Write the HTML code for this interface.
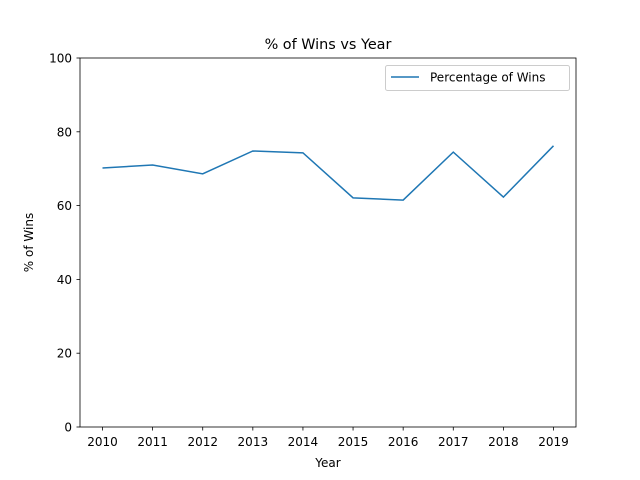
<!DOCTYPE html>
<html><head><meta charset="utf-8"><style>
html,body{margin:0;padding:0;background:#fff;}
svg{display:block;font-family:"DejaVu Sans","Liberation Sans",sans-serif;}
</style></head><body>
<svg id="chart" width="640" height="480" viewBox="0 0 640 480">
<rect width="640" height="480" fill="#fff"/>
<text x="328" y="49" text-anchor="middle" font-size="14.4">% of Wins vs Year</text>
<g id="ticks"></g>
<path id="line" fill="none" stroke="#1f77b4" stroke-width="1.5"/>
<rect x="80" y="58" width="496" height="369" fill="none" stroke="#000" stroke-width="0.8"/>
<text x="328" y="467" text-anchor="middle" font-size="12">Year</text>
<text transform="translate(33,242.5) rotate(-90)" text-anchor="middle" font-size="12">% of Wins</text>
<g>
<rect x="385.5" y="65.5" width="184" height="25" rx="2" fill="#fff" stroke="#ccc"/>
<line x1="391" y1="77" x2="419" y2="77" stroke="#1f77b4" stroke-width="1.5"/>
<text x="430" y="81.5" font-size="12">Percentage of Wins</text>
</g>
</svg>
<script>
const years = [2010,2011,2012,2013,2014,2015,2016,2017,2018,2019];
const wins = [70.2,71.0,68.6,74.8,74.3,62.1,61.5,74.5,62.3,76.2];
const yTicks = [0,20,40,60,80,100];
const NS="http://www.w3.org/2000/svg";
function xs(v){return 102.5+(v-2010)*(553.5-102.5)/9;}
function ys(v){return 427-v*369/100;}
const g=document.getElementById('ticks');
function mk(t,a){const e=document.createElementNS(NS,t);for(const k in a)e.setAttribute(k,a[k]);return e;}
years.forEach(y=>{
 const l=mk('line',{x1:xs(y),x2:xs(y),y1:427,y2:430.5,stroke:'#000','stroke-width':0.8});
 
 
 g.appendChild(l);
 const t=mk('text',{x:xs(y),y:446,'text-anchor':'middle','font-size':12});
 
 
 t.textContent=y;g.appendChild(t);
});
yTicks.forEach(v=>{
 const l=mk('line',{x1:76.5,x2:80,y1:ys(v),y2:ys(v),stroke:'#000','stroke-width':0.8});
 
 
 g.appendChild(l);
 const t=mk('text',{x:72,y:ys(v)+4.5,'text-anchor':'end','font-size':12});
 
 
 t.textContent=v;g.appendChild(t);
});
document.getElementById('line').setAttribute('d',years.map((y,i)=>(i?'L':'M')+xs(y)+','+ys(wins[i])).join(''));
</script>
</body></html>
